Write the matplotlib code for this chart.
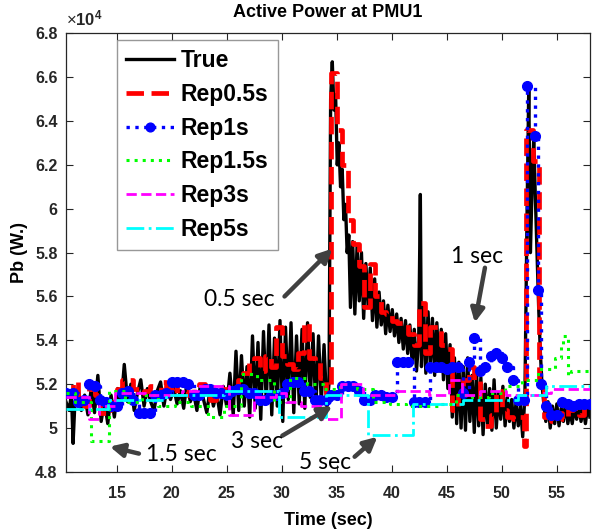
import matplotlib
matplotlib.use('Agg')
import matplotlib.pyplot as plt
from matplotlib.ticker import FuncFormatter

# ---------------- data ----------------
t_true = [10.4, 10.7, 10.9, 11.05, 11.2,
          11.5, 11.8, 12.1, 12.4, 12.7, 13.0, 13.3, 13.6, 13.9, 14.2,
          14.5, 14.8, 15.1, 15.4, 15.7, 16.0, 16.3, 16.6, 16.9, 17.2,
          17.5, 17.8, 18.1, 18.4, 18.7, 19.0, 19.3, 19.6, 19.9, 20.2,
          20.5, 20.8, 21.1, 21.4, 21.7, 22.0, 22.3, 22.6, 22.9, 23.2,
          23.5, 23.8, 24.1, 24.4, 24.7, 25.0,
          25.3, 25.6, 25.85, 26.1, 26.35, 26.6, 26.85, 27.1, 27.35, 27.6,
          27.85, 28.1, 28.35, 28.6, 28.85, 29.1, 29.35, 29.6, 29.85, 30.1,
          30.35, 30.6, 30.85, 31.1, 31.35, 31.6, 31.85, 32.1, 32.35, 32.6,
          32.85, 33.1, 33.35, 33.6, 33.85, 34.1, 34.3,
          34.45, 34.6, 34.75, 34.9, 35.05, 35.2, 35.35, 35.5, 35.65, 35.8, 35.95, 36.1,
          36.25, 36.45, 36.65, 36.85, 37.05, 37.25, 37.45, 37.65, 37.85, 38.05,
          38.25, 38.45, 38.65, 38.85, 39.05, 39.25, 39.45, 39.65, 39.85, 40.05,
          40.25, 40.45, 40.65, 40.85, 41.05, 41.25, 41.45, 41.65, 41.85, 42.05,
          42.25, 42.45,
          42.6, 42.7, 42.9, 43.1, 43.3, 43.5, 43.7, 43.9, 44.1, 44.3,
          44.5, 44.7, 44.9, 45.1, 45.3, 45.5, 45.7,
          45.9, 46.1, 46.3, 46.5, 46.7, 46.9, 47.1, 47.3, 47.5, 47.7,
          47.9, 48.1, 48.3, 48.5, 48.7, 48.9, 49.1, 49.3, 49.5, 49.7,
          49.9, 50.1, 50.3, 50.5, 50.7, 50.9, 51.1, 51.3, 51.5, 51.7,
          51.9, 52.1,
          52.3, 52.45, 52.6, 52.75, 52.9, 53.05, 53.2, 53.35, 53.5, 53.65, 53.8,
          54.0, 54.2, 54.4, 54.6, 54.8, 55.0, 55.2, 55.4, 55.6, 55.8,
          56.0, 56.2, 56.4, 56.6, 56.8, 57.0, 57.2, 57.4, 57.6, 57.8, 58.0]
p_true = [51200, 50800, 51600, 49300, 51000,
          51800, 50800, 51500, 50600, 51800, 50700, 52400, 50300, 51200, 50200,
          51500, 50500, 51800, 51000, 52900, 51200, 52000, 50800, 51600, 52200,
          51000, 51800, 51200, 50800, 51700, 52100, 51000, 51900, 51300, 51800,
          51100, 51700, 50900, 52100, 51200, 51600, 50800, 51900, 51300, 50700,
          51800, 51000, 51600, 50600, 51900, 51000,
          52500, 50600, 53500, 50800, 53300, 51000, 52800, 50500, 54200, 50900,
          53900, 50400, 54400, 51200, 54700, 50600, 54100, 51000, 54900, 50300,
          54600, 51300, 54800, 50700, 54200, 51100, 54500, 50900, 54800, 51400,
          54300, 50800, 54200, 51200, 53800, 51000, 52000,
          65000, 66700, 64500, 65200, 62000, 63000, 61000, 61800, 59500, 60200, 58000, 58800,
          55500, 58500, 55200, 58300, 55800, 58000, 55000, 57500, 55600, 57300,
          54900, 56800, 54600, 56200, 54700, 55800, 54300, 55600, 54400, 55400,
          54200, 55200, 53900, 55000, 53600, 54900, 53400, 54700, 53000, 54500,
          52600, 54000,
          60650, 52800, 55500, 52500, 55300, 52900, 55000, 52400, 54800, 52600,
          54500, 52200, 54300, 51800, 53800, 50500, 53200,
          50200, 53000, 50000, 52800, 49900, 53200, 50300, 52400, 49800, 52600,
          50100, 52300, 49700, 52000, 50200, 51800, 49900, 52200, 50000, 51600,
          50400, 51900, 50100, 51400, 50300, 51300, 50000, 51200, 50100, 51000,
          49600, 51500,
          60000, 65500, 58000, 61000, 63200, 60500, 58000, 55500, 53500, 52000, 51200,
          50300, 51200, 50000, 51000, 50200, 51100, 50100, 50900, 50300, 51200,
          50200, 50800, 50200, 51000, 50400, 51100, 50300, 50900, 50200, 51000, 50500]

t_rep05 = [10.4, 11.0, 11.5, 12.0, 12.5, 13.0, 13.5, 14.0, 14.5, 15.0,
           15.5, 16.0, 16.5, 17.0, 17.5, 18.0, 18.5, 19.0, 19.5, 20.0,
           20.5, 21.0, 21.5, 22.0, 22.5, 23.0, 23.5, 24.0, 24.5, 25.0,
           25.5, 26.0, 26.5, 27.0, 27.5, 28.0, 28.5, 29.0, 29.5, 30.0,
           30.5, 31.0, 31.5, 32.0, 32.5, 33.0, 33.5, 34.0, 34.5, 35.0,
           35.5, 36.0, 36.5, 37.0, 37.5, 38.0, 38.5, 39.0, 39.5, 40.0,
           40.5, 41.0, 41.5, 42.0, 42.5, 43.0, 43.5, 44.0, 44.5, 45.0,
           45.5, 46.0, 46.5, 47.0, 47.5, 48.0, 48.5, 49.0, 49.5, 50.0,
           50.5, 51.0, 51.5, 52.0, 52.2, 52.8, 53.4, 53.8, 54.5, 55.0,
           55.5, 56.0, 56.5, 57.0, 57.5, 58.0]
p_rep05 = [51500, 52100, 51200, 51000, 51800, 51500, 50700, 50800, 51200, 51800,
           52200, 52200, 51800, 51600, 51700, 51900, 51500, 52100, 51800, 51600,
           52000, 51700, 51500, 51800, 52000, 51500, 51300, 51600, 51800, 51500,
           51700, 52200, 52500, 53000, 53200, 52600, 53300, 52800, 54600, 53300,
           52900, 52700, 53400, 54800, 53200, 53000, 52300, 51600, 66200, 63600,
           62000, 59500, 58400, 57400, 55500, 57500, 56000, 55300, 55200, 54900,
           54800, 54800, 54300, 53800, 55700, 53400, 54600, 54600, 53800, 53600,
           50800, 51500, 52200, 52800, 52200, 50400, 50100, 50600, 51700, 50800,
           50500, 50400, 50500, 49200, 63600, 62200, 52000, 50500, 50300, 50700,
           50400, 50800, 50900, 50600, 51000, 51000]

t_rep1 = [10.4, 11.0, 11.5, 12.0, 12.5, 13.0, 13.5, 14.0, 14.5, 15.0,
          15.5, 16.0, 16.5, 17.0, 17.5, 18.0, 18.5, 19.0, 19.5, 20.0,
          20.5, 21.0, 21.5, 22.0, 22.5, 23.0, 23.5, 24.0, 24.5, 25.0,
          25.5, 26.0, 26.5, 27.0, 27.5, 28.0, 28.5, 29.0, 29.5, 30.0,
          30.5, 31.0, 31.5, 32.0, 32.5, 33.0, 33.5, 34.0, 34.5, 35.0,
          35.5, 36.0, 36.5, 37.0, 37.5, 38.0, 38.5, 39.0, 39.5, 40.0,
          40.5, 41.0, 41.5, 42.0, 42.5, 43.0, 43.5, 44.0, 44.5, 45.0,
          45.5, 46.0, 46.5, 47.0, 47.5, 48.0, 48.5, 49.0, 49.5, 50.0,
          50.5, 51.0, 51.5, 52.0, 52.3, 53.0, 53.3, 53.6, 54.0, 54.5,
          55.0, 55.5, 56.0, 56.5, 57.0, 57.5, 58.0]
p_rep1 = [51600, 51600, 51200, 51300, 52000, 51900, 51300, 51200, 51000, 51000,
          51600, 51700, 51300, 50700, 50700, 50700, 51500, 51500, 51600, 52100,
          52100, 52100, 52000, 51500, 51500, 51800, 51800, 51600, 51600, 51500,
          51700, 51800, 51800, 51600, 51600, 51300, 51300, 51500, 51500, 51600,
          52000, 52100, 52100, 51700, 51700, 51300, 51300, 51300, 51500, 51500,
          51900, 51900, 51900, 51700, 51300, 51300, 51500, 51500, 51400, 51400,
          53000, 53000, 53000, 51200, 51200, 51200, 52800, 52800, 52800, 52700,
          52800, 52800, 51600, 53000, 54100, 52600, 52800, 53300, 53400, 53200,
          52800, 52200, 51300, 51300, 65600, 63300, 56300, 52000, 51000, 50600,
          50600, 51200, 51100, 51000, 51100, 51100, 51100]

t_rep15 = [10.4, 11.2, 12.7, 14.3, 15.8, 17.3, 18.8, 20.3, 21.8, 23.3,
           24.8, 26.3, 27.8, 29.3, 30.8, 32.3, 33.8, 35.3, 36.8, 38.3,
           39.8, 41.3, 42.8, 44.3, 45.8, 47.3, 48.8, 50.3, 51.8, 53.3,
           54.8, 55.4, 55.6, 56.0, 56.3, 58.0]
p_rep15 = [51600, 51200, 49400, 51700, 51200, 51500, 51000, 51200, 51000, 50500,
           51000, 52450, 52200, 51200, 52300, 52000, 51800, 52000, 51800, 51200,
           51100, 51000, 51000, 51100, 51500, 51400, 51600, 51900, 52200, 52700,
           53200, 53800, 54200, 52400, 52600, 52600]

t_rep3 = [10.4, 12.5, 13.4, 14.9, 17.9, 20.9, 22.4, 25.2, 27.5, 29.5,
          30.4, 31.8, 33.8, 35.4, 37.4, 40.4, 43.4, 45.2, 46.4, 48.0,
          50.4, 53.4, 54.5, 58.0]
p_rep3 = [51400, 50400, 51000, 51600, 51500, 51700, 51900, 50600, 51400, 51600,
          51200, 51000, 50400, 52000, 51500, 51700, 51500, 52200, 51500, 51700,
          51500, 51600, 51800, 51800]

t_rep5 = [10.4, 14.2, 19.5, 24.8, 29.8, 34.0, 37.8, 41.9, 46.5, 51.5, 54.0, 58.0]
p_rep5 = [50850, 51300, 51500, 51700, 50500, 51500, 49700, 51100, 51300, 51500, 51900, 51900]

x_ticks = [15, 20, 25, 30, 35, 40, 45, 50, 55]
y_ticks = [48000, 50000, 52000, 54000, 56000, 58000, 60000, 62000, 64000, 66000, 68000]

# ---------------- plot ----------------
plt.rcParams['font.family'] = ['Liberation Sans', 'DejaVu Sans']
plt.rcParams['mathtext.fontset'] = 'custom'
plt.rcParams['mathtext.rm'] = 'Liberation Sans'
plt.rcParams['mathtext.bf'] = 'Liberation Sans:bold'

fig = plt.figure(figsize=(5.94, 5.29), dpi=100)
ax = fig.add_axes([0.111, 0.108, 0.882, 0.829])

ax.plot(t_true, p_true, color='black', lw=2.4, label='True', zorder=2)
ax.plot(t_rep05, p_rep05, color='red', lw=3.4, ls='--', drawstyle='steps-post',
        label='Rep0.5s', zorder=3)
ax.plot(t_rep1, p_rep1, color='blue', lw=2.4, ls=':', drawstyle='steps-post',
        marker='o', markersize=7, label='Rep1s', zorder=4)
ax.plot(t_rep15, p_rep15, color='#00ff00', lw=2.2, ls=':', drawstyle='steps-post',
        label='Rep1.5s', zorder=5)
ax.plot(t_rep3, p_rep3, color='magenta', lw=2.0, ls='--', drawstyle='steps-post',
        label='Rep3s', zorder=6)
ax.plot(t_rep5, p_rep5, color='cyan', lw=2.0, ls='-.', drawstyle='steps-post',
        label='Rep5s', zorder=7)

ax.set_xlim(10.4, 58)
ax.set_ylim(48000, 68000)
ax.set_xticks(x_ticks)
ax.set_yticks(y_ticks)
ax.yaxis.set_major_formatter(FuncFormatter(lambda v, p: f'{v / 1e4:g}'))
ax.tick_params(direction='in', top=True, right=True, length=5, width=0.8,
               labelsize=11.5, colors='#262626')
ax.tick_params(axis='x', pad=10)
ax.tick_params(axis='y', pad=6)
for lab in ax.get_xticklabels() + ax.get_yticklabels():
    lab.set_fontweight('bold')
for s in ax.spines.values():
    s.set_color('#262626')
    s.set_linewidth(0.9)

ax.set_title('Active Power at PMU1', fontsize=13, fontweight='bold', pad=12)
ax.set_xlabel('Time (sec)', fontsize=13, fontweight='bold', labelpad=8)
ax.set_ylabel('Pb (W.)', fontsize=13, fontweight='bold', labelpad=5)
ax.text(0.0, 1.012, r'$\times\mathbf{10^{4}}$', transform=ax.transAxes,
        fontsize=12, ha='left', va='bottom', color='#262626')

leg = ax.legend(loc='upper left', bbox_to_anchor=(0.097, 0.985), borderaxespad=0,
                prop={'weight': 'bold', 'size': 16.5}, frameon=True,
                fancybox=False, edgecolor='#7f7f7f', handlelength=2.1,
                handletextpad=0.3, labelspacing=0.47, borderpad=0.4,
                markerscale=0.9)
leg.get_frame().set_linewidth(1.0)

# annotations
arrow_kw = dict(arrowstyle='-|>', color='#404040', lw=3.2, mutation_scale=20,
                shrinkA=0, shrinkB=0)
ann_font = dict(family=['Lato', 'DejaVu Sans'], fontsize=16.5, color='black',
                ha='center', va='center')
ax.annotate('', xy=(34.6, 58180), xytext=(30.26, 56000), arrowprops=arrow_kw, zorder=9)
ax.text(26.14, 55850, '0.5 sec', **ann_font, zorder=9)
ax.annotate('', xy=(47.55, 54810), xytext=(48.47, 57310), arrowprops=arrow_kw, zorder=9)
ax.text(47.73, 57820, '1 sec', **ann_font, zorder=9)
ax.annotate('', xy=(14.39, 49152), xytext=(17.03, 48833), arrowprops=arrow_kw, zorder=9)
ax.text(20.85, 48790, '1.5 sec', **ann_font, zorder=9)
ax.annotate('', xy=(34.6, 51000), xytext=(30.06, 49650), arrowprops=arrow_kw, zorder=9)
ax.text(27.78, 49380, '3 sec', **ann_font, zorder=9)
ax.annotate('', xy=(38.7, 49600), xytext=(36.63, 48690), arrowprops=arrow_kw, zorder=9)
ax.text(33.9, 48430, '5 sec', **ann_font, zorder=9)

fig.savefig('out.png', dpi=100)
